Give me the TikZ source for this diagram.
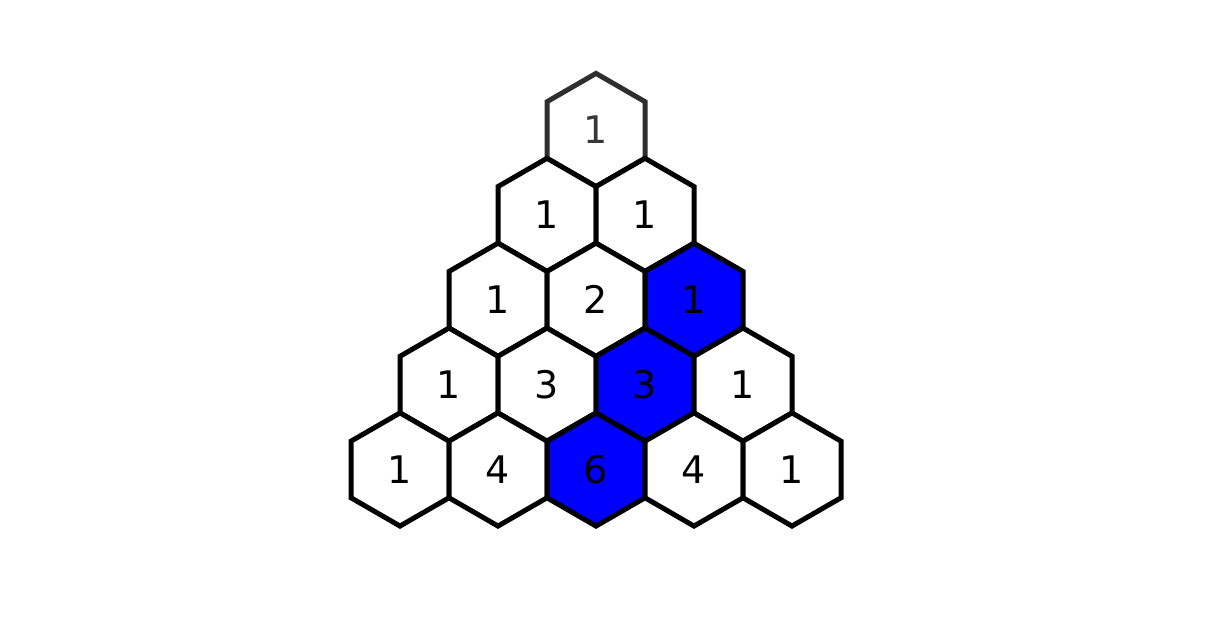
\documentclass[tikz,border=0pt]{standalone}
\usepackage{fontspec}
\setmainfont{DejaVu Sans}
\usetikzlibrary{shapes.geometric}
\begin{document}
\begin{tikzpicture}[x=1pt,y=-1pt]
\useasboundingbox (0,0) rectangle (1207,620);
\tikzset{
  hexcell/.style={regular polygon, regular polygon sides=6, shape border rotate=30,
    minimum size=113.16pt, inner sep=0pt, outer sep=0pt, draw=black, line width=5pt,
    fill=white, text=black, font=\fontsize{38}{40}\selectfont},
  topcell/.style={hexcell, draw=black!82, text=black!78},
  bluecell/.style={hexcell, fill=blue}
}
% row 0
\node[topcell] (c00) at (596,130) {1};
% row 1
\node[hexcell] (c10) at (547,214.87) {1};
\node[hexcell] (c11) at (645,214.87) {1};
% row 2
\node[hexcell] (c20) at (498,299.74) {1};
\node[hexcell] (c21) at (596,299.74) {2};
\node[bluecell] (c22) at (694,299.74) {1};
% row 3
\node[hexcell] (c30) at (449,384.61) {1};
\node[hexcell] (c31) at (547,384.61) {3};
\node[bluecell] (c32) at (645,384.61) {3};
\node[hexcell] (c33) at (743,384.61) {1};
% row 4
\node[hexcell] (c40) at (400,469.48) {1};
\node[hexcell] (c41) at (498,469.48) {4};
\node[bluecell] (c42) at (596,469.48) {6};
\node[hexcell] (c43) at (694,469.48) {4};
\node[hexcell] (c44) at (792,469.48) {1};
\end{tikzpicture}
\end{document}
